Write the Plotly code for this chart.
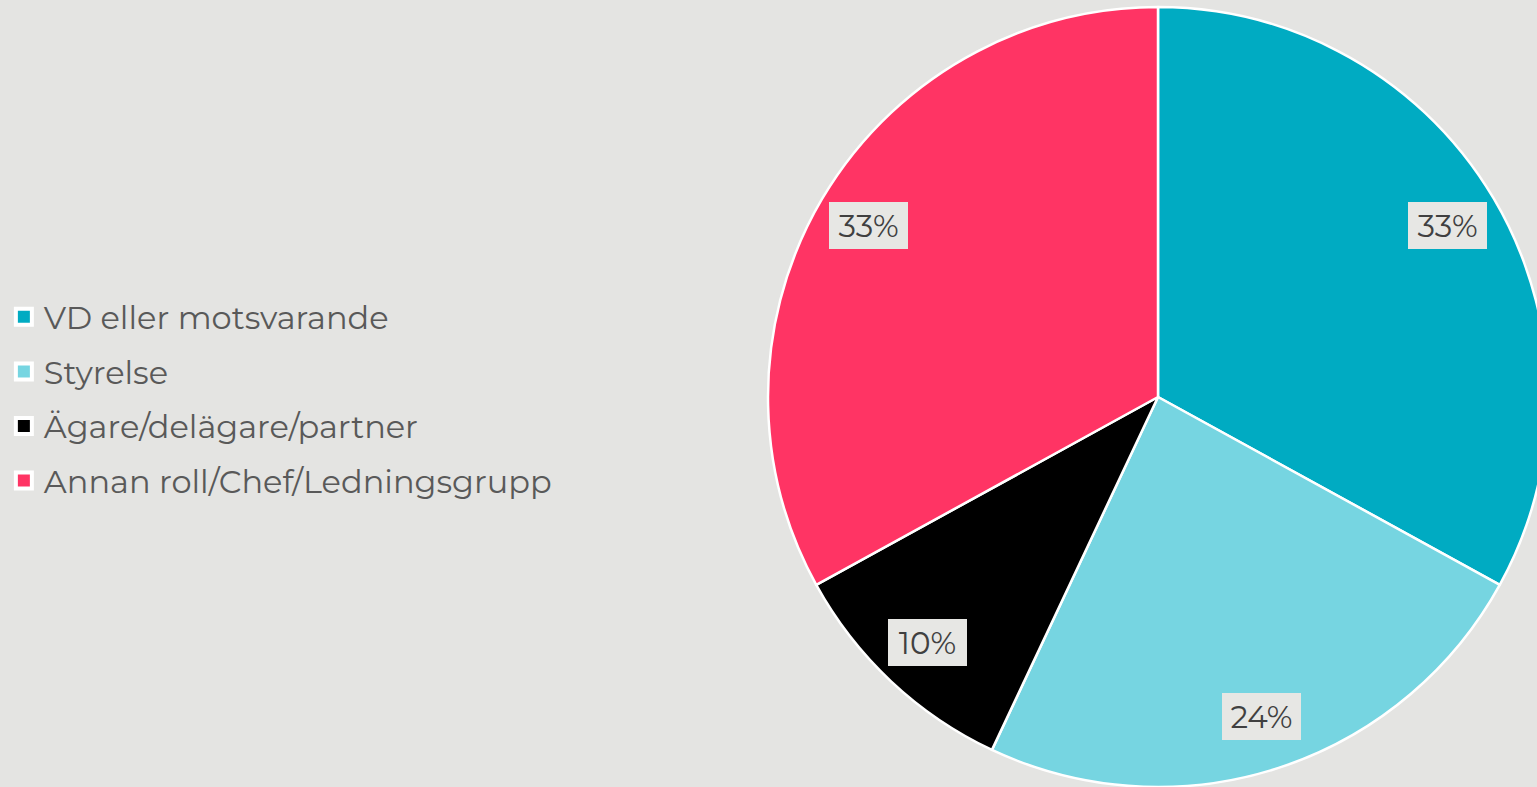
import math
import plotly.graph_objects as go

# Survey answers: respondent role, share in percent
categories = ["VD eller motsvarande", "Styrelse", "Ägare/delägare/partner", "Annan roll/Chef/Ledningsgrupp"]
shares = [33, 24, 10, 33]
colors = ["#00ABC2", "#76D5E1", "#000000", "#FF3464"]

W, H = 1548, 787
BG = "#E4E4E2"
FONT = "Montserrat, DejaVu Sans, sans-serif"

# Pie placement (pixels from top-left)
cx, cy, R = 1158, 397, 390
dom_x = [(cx - R) / W, min(1.0, (cx + R) / W)]
dom_y = [max(0.0, (H - cy - R) / H), (H - cy + R) / H]

fig = go.Figure()
fig.add_trace(go.Pie(
    labels=categories,
    values=shares,
    sort=False,
    direction="clockwise",
    rotation=0,
    marker=dict(colors=colors, line=dict(color="white", width=2.5)),
    textinfo="none",
    hoverinfo="label+percent",
    showlegend=False,
    domain=dict(x=dom_x, y=dom_y),
))

# Legend entries: one square marker per category, each in its own group
for name, col in zip(categories, colors):
    fig.add_trace(go.Scatter(
        x=[None], y=[None], mode="markers", name=name, legendgroup=name,
        marker=dict(symbol="square", size=16, color=col, line=dict(color="white", width=4)),
    ))

# Percentage labels placed at the middle angle of each slice
total = sum(shares)
annotations = []
cum = 0.0
r_lab = 0.862 * R
for v in shares:
    mid = (cum + v / 2) / total * 2 * math.pi
    cum += v
    px = cx + r_lab * math.sin(mid)
    py = cy - r_lab * math.cos(mid)
    annotations.append(dict(
        x=px / W, y=(H - py) / H, xref="paper", yref="paper",
        text=f"{v}%", showarrow=False,
        font=dict(family=FONT, size=31, color="#404040"),
        bgcolor="#E7E7E4", borderpad=0, borderwidth=0,
        width=79, height=47, align="center", valign="middle",
        xanchor="center", yanchor="middle",
    ))

fig.update_layout(
    width=W, height=H,
    margin=dict(l=0, r=0, t=0, b=0),
    paper_bgcolor=BG, plot_bgcolor=BG,
    xaxis=dict(visible=False), yaxis=dict(visible=False),
    showlegend=True,
    legend=dict(
        x=0.0025, y=(H - 399) / H, xanchor="left", yanchor="middle",
        font=dict(family=FONT, size=32, color="#595959"),
        tracegroupgap=10, bgcolor="rgba(0,0,0,0)", itemclick=False,
    ),
    annotations=annotations,
)

fig.write_html("out.html")
